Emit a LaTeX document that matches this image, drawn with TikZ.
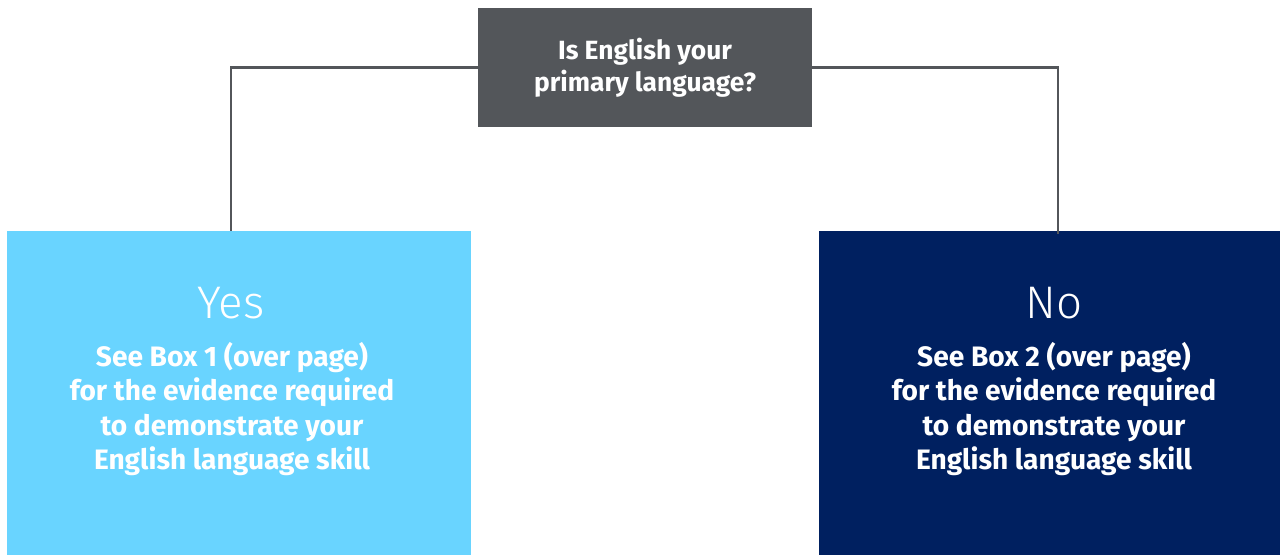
\documentclass[tikz,border=0pt]{standalone}
\usepackage{fontspec}
\setmainfont{Fira Sans}
\newfontfamily\lightfont{Fira Sans Light}
\usetikzlibrary{positioning}
\definecolor{slate}{HTML}{53565A}
\definecolor{sky}{HTML}{69D4FF}
\definecolor{navy}{HTML}{002060}

\begin{document}
\begin{tikzpicture}[x=0.02cm,y=-0.02cm,inner sep=0pt,
  box/.style={rectangle,draw=none,minimum height=6.48cm},
  answer/.style={text=white,font=\lightfont\fontsize{26pt}{30pt}\selectfont},
  advice/.style={text=white,align=center,font=\bfseries\fontsize{16pt}{19.7pt}\selectfont},
  link/.style={draw=slate,line width=1.3pt}]
\useasboundingbox (0,0) rectangle (1280,555);

\node (question) at (645,67.5) [box,fill=slate,minimum width=6.68cm,minimum height=2.38cm,
  text=white,align=center,font=\bfseries\fontsize{15pt}{18.2pt}\selectfont]
  {Is English your\\primary language?};
\node (yesbox) at (239,393) [box,fill=sky,minimum width=9.28cm] {};
\node (nobox) at (1049.5,393) [box,fill=navy,minimum width=9.22cm] {};

\node (yes) at (231,303) [answer] {Yes};
\node (no) at (1054,303) [answer] {No};
\node (yestext) at (232,409) [advice] {See Box 1 (over page)\\for the evidence required\\to demonstrate your\\English language skill};
\node (notext) at (1054,409) [advice] {See Box 2 (over page)\\for the evidence required\\to demonstrate your\\English language skill};

%connectors
\coordinate (yesend) at (231,231);
\coordinate (noend) at (1058,234);
\draw[link] (question.west) -| (yesend);
\draw[link] (question.east) -| (noend);

\end{tikzpicture}
\end{document}
